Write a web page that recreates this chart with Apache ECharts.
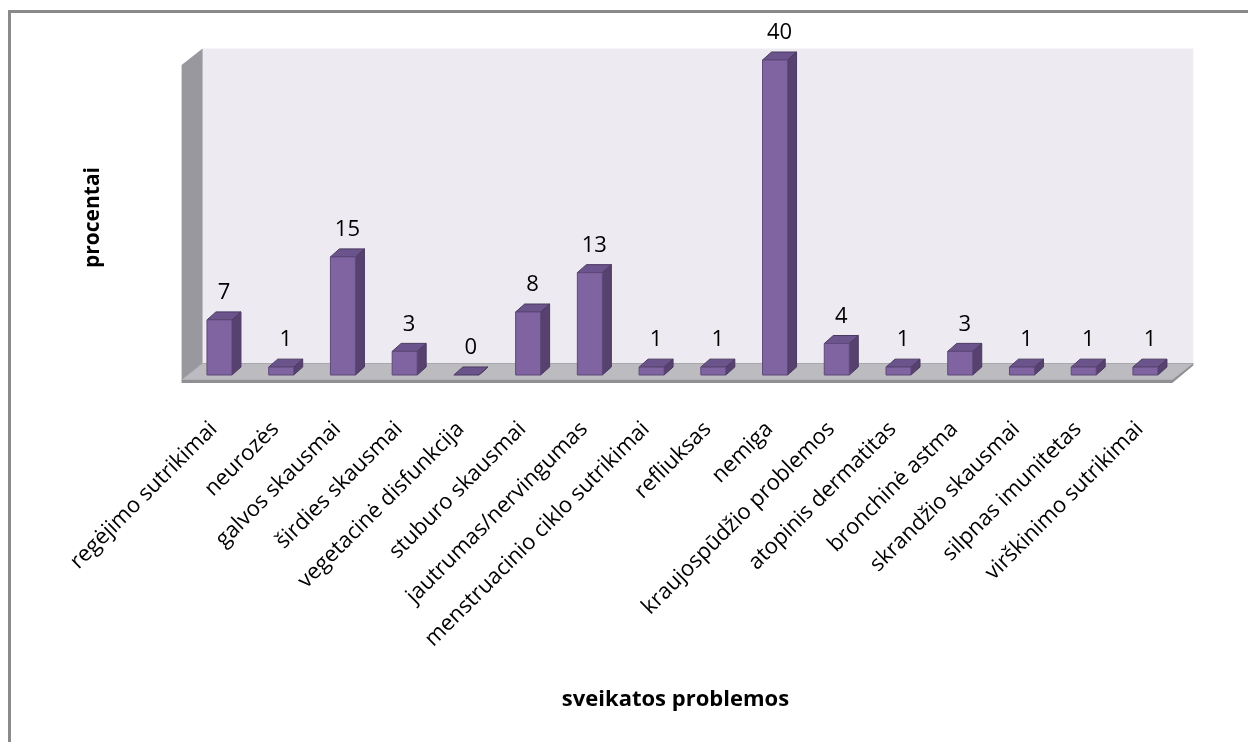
<!DOCTYPE html>
<html>
<head>
<meta charset="utf-8">
<script src="https://cdn.jsdelivr.net/npm/echarts@6/dist/echarts.min.js"></script>
<style>html,body{margin:0;padding:0;background:#fff}#c{width:1248px;height:742px}</style>
</head>
<body>
<div id="c"></div>
<script>
const categories = ["regėjimo sutrikimai","neurozės","galvos skausmai","širdies skausmai","vegetacinė disfunkcija","stuburo skausmai","jautrumas/nervingumas","menstruacinio ciklo sutrikimai","refliuksas","nemiga","kraujospūdžio problemos","atopinis dermatitas","bronchinė astma","skrandžio skausmai","silpnas imunitetas","virškinimo sutrikimai"];
const values = [7,1,15,3,0,8,13,1,1,40,4,1,3,1,1,1];
const yMin = 0, yMax = 40;
const xTitle = "sveikatos problemos";
const yTitle = "procentai";

const FONT = "Open Sans";
const chart = echarts.init(document.getElementById('c'), null, {renderer:'canvas'});

function renderFrame(params, api){
  const cs = params.coordSys;
  const y0 = cs.y + cs.height + 5, yT = cs.y + 5;
  const FL = cs.x - 7, FR = cs.x + cs.width - 4;
  const DX = 21, DY = 16.5;
  return {type:'group', children:[
    {type:'rect', shape:{x:FL+DX, y:yT-DY, width:FR-FL, height:y0-yT}, style:{fill:'#EDEBF1'}},
    {type:'polygon', shape:{points:[[FL,yT],[FL+DX,yT-DY],[FL+DX,y0-DY],[FL,y0]]}, style:{fill:'#99989E'}},
    {type:'polygon', shape:{points:[[FL,y0],[FL+DX,y0-DY],[FR+DX,y0-DY],[FR,y0]]}, style:{fill:'#BCBBBF', stroke:'#A9A8AC', lineWidth:1}},
    {type:'polygon', shape:{points:[[FL,y0],[FR,y0],[FR+DX,y0-DY],[FR+DX,y0-DY+2],[FR,y0+3],[FL,y0+3]]}, style:{fill:'#909093'}}
  ]};
}

function renderBar(params, api){
  const idx = api.value(0), v = api.value(1);
  const base = api.coord([idx, 0]);
  const top = api.coord([idx, v]);
  const band = api.size([1, 0])[0];
  const w = band * 0.405;
  const x = base[0] - w/2;
  const dx = 9, dy = 8;
  const yb = base[1], yt = top[1];
  const children = [
    {type:'polygon', shape:{points:[[x+w,yt],[x+w+dx,yt-dy],[x+w+dx,yb-dy],[x+w,yb]]}, style:{fill:'#57426F', stroke:'#4A3961', lineWidth:1}},
    {type:'polygon', shape:{points:[[x,yt],[x+dx,yt-dy],[x+w+dx,yt-dy],[x+w,yt]]}, style:{fill:'#6B538B', stroke:'#4A3961', lineWidth:1}}
  ];
  if (yb - yt > 0.5) {
    children.push({type:'rect', shape:{x:x, y:yt, width:w, height:yb-yt}, style:{fill:'#8064A2', stroke:'#5E4A7A', lineWidth:1}});
  }
  children.push({type:'text', x: base[0] + dx/2, y: yt - 27, style:{text:String(v), fill:'#000', font:'22px "'+FONT+'"', align:'center', verticalAlign:'middle'}});
  return {type:'group', children};
}

chart.setOption({
  animation:false,
  backgroundColor:'#fff',
  grid:{left:188.6, right:71.7, top:60, bottom:367, containLabel:false},
  xAxis:{type:'category', data:categories,
    axisLine:{show:false}, axisTick:{show:false},
    axisLabel:{rotate:45, margin:45, interval:0, color:'#000', fontFamily:FONT, fontSize:22, padding:[0,8,0,0]},
    name:xTitle, nameLocation:'middle', nameGap:314,
    nameTextStyle:{color:'#000', fontFamily:FONT, fontSize:22, fontWeight:'bold', padding:[0,14,0,0]}},
  yAxis:{type:'value', min:yMin, max:yMax,
    axisLine:{show:false}, axisTick:{show:false}, axisLabel:{show:false}, splitLine:{show:false},
    name:yTitle, nameLocation:'middle', nameGap:85, nameRotate:90,
    nameTextStyle:{color:'#000', fontFamily:FONT, fontSize:21, fontWeight:'bold'}},
  graphic:[{type:'rect', shape:{x:9.5, y:11.5, width:1400, height:900}, style:{fill:null, stroke:'#8A8A8A', lineWidth:3}, silent:true, z:100}],
  series:[
    {type:'custom', renderItem:renderFrame, data:[[0,0]], encode:{x:0,y:1}, z:1, silent:true},
    {type:'custom', renderItem:renderBar, data:values.map((v,i)=>[i,v]), encode:{x:0,y:1}, z:2}
  ]
});
</script>
</body>
</html>
